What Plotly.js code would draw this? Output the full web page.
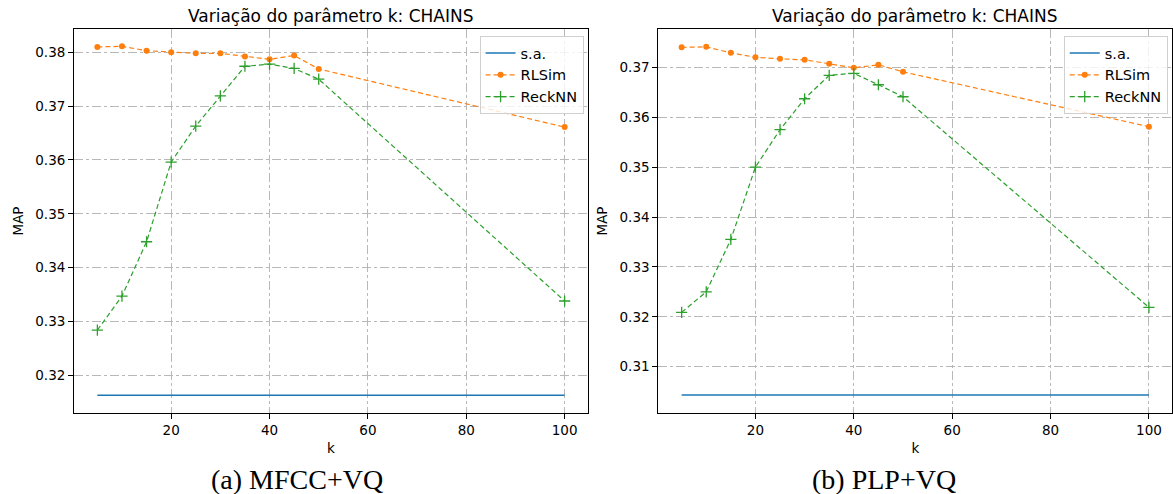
<!DOCTYPE html>
<html><head><meta charset="utf-8">
<script src="https://cdn.plot.ly/plotly-3.0.1.min.js"></script>
<style>html,body{margin:0;padding:0;background:#fff}#chart{width:1173px;height:494px}</style>
</head><body><div id="chart"></div>
<script>
const k = [5, 10, 15, 20, 25, 30, 35, 40, 45, 50, 100];
const mfccSA = 0.3163;
const mfccRLSim = [0.3810, 0.3811, 0.3803, 0.3800, 0.3798, 0.3798, 0.3792, 0.3787, 0.3794, 0.3769, 0.3661];
const mfccReckNN = [0.3284, 0.3347, 0.3448, 0.3596, 0.3663, 0.3719, 0.3774, 0.3778, 0.3770, 0.3750, 0.3338];
const plpSA = 0.3043;
const plpRLSim = [0.3740, 0.3741, 0.3729, 0.3720, 0.3717, 0.3715, 0.3707, 0.3699, 0.3705, 0.3691, 0.3581];
const plpReckNN = [0.3209, 0.3250, 0.3355, 0.3500, 0.3575, 0.3637, 0.3684, 0.3688, 0.3665, 0.3641, 0.3219];
const titleText = 'Variação do parâmetro k: CHAINS';
const captions = ['(a) MFCC+VQ', '(b) PLP+VQ'];

const blue = '#1f77b4', orange = '#ff7f0e', green = '#2ca02c';
function traces(sa, rl, rk, xa, ya, leg) {
  return [
    {x: k, y: k.map(() => sa), mode: 'lines', name: 's.a.', line: {color: blue, width: 1.5}, xaxis: xa, yaxis: ya, legend: leg},
    {x: k, y: rl, mode: 'lines+markers', name: 'RLSim', line: {color: orange, width: 1.2, dash: '5px,3px'},
     marker: {symbol: 'circle', size: 6, color: orange}, xaxis: xa, yaxis: ya, legend: leg},
    {x: k, y: rk, mode: 'lines+markers', name: 'ReckNN', line: {color: green, width: 1.2, dash: '5px,3px'},
     marker: {symbol: 'cross-thin-open', size: 8, line: {color: green, width: 1.3}}, xaxis: xa, yaxis: ya, legend: leg}
  ];
}
const data = [...traces(mfccSA, mfccRLSim, mfccReckNN, 'x', 'y', 'legend'),
              ...traces(plpSA, plpRLSim, plpReckNN, 'x2', 'y2', 'legend2')];

const tickFont = {family: 'DejaVu Sans', size: 13.5, color: '#000'};
const labFont = {family: 'DejaVu Sans', size: 13.5, color: '#000'};
function xax(dom, anchor) {
  return {domain: dom, anchor: anchor, range: [0.25, 104.75], tickvals: [20, 40, 60, 80, 100],
    showline: true, mirror: true, linecolor: '#000', linewidth: 1, ticks: 'outside', ticklen: 5, tickcolor: '#000',
    showgrid: true, gridcolor: '#b8b8b8', griddash: 'dashdot', gridwidth: 1, zeroline: false, tickfont: tickFont,
    title: {text: 'k', font: labFont, standoff: 6}};
}
function yax(anchor, range, tv) {
  return {domain: [0.1646, 0.9407], anchor: anchor, range: range, tickvals: tv, tickformat: '.2f',
    showline: true, mirror: true, linecolor: '#000', linewidth: 1, ticks: 'outside', ticklen: 5, tickcolor: '#000',
    showgrid: true, gridcolor: '#b8b8b8', griddash: 'dashdot', gridwidth: 1, zeroline: false, tickfont: tickFont,
    title: {text: 'MAP', font: labFont, standoff: 8}};
}
const legStyle = {bgcolor: 'rgba(255,255,255,0.8)', bordercolor: '#d0d0d0', borderwidth: 1,
  font: {family: 'DejaVu Sans', size: 14.5, color: '#000'}, xanchor: 'right', yanchor: 'top', tracegroupgap: 0, itemwidth: 30};
const layout = {
  width: 1173, height: 494, margin: {l: 0, r: 0, t: 0, b: 0}, paper_bgcolor: '#fff', plot_bgcolor: '#fff',
  showlegend: true,
  xaxis: xax([0.0631, 0.5013], 'y'),
  yaxis: yax('x', [0.31305, 0.38427], [0.32, 0.33, 0.34, 0.35, 0.36, 0.37, 0.38]),
  xaxis2: xax([0.5612, 0.9994], 'y2'),
  yaxis2: yax('x2', [0.30078, 0.37762], [0.31, 0.32, 0.33, 0.34, 0.35, 0.36, 0.37]),
  legend: Object.assign({x: 0.4975, y: 0.927}, legStyle),
  legend2: Object.assign({x: 0.9955, y: 0.927}, legStyle),
  annotations: [
    {text: titleText, xref: 'paper', yref: 'paper', x: 0.2822, y: 0.944, xanchor: 'center', yanchor: 'bottom', showarrow: false,
     font: {family: 'DejaVu Sans', size: 17, color: '#000'}},
    {text: titleText, xref: 'paper', yref: 'paper', x: 0.7803, y: 0.944, xanchor: 'center', yanchor: 'bottom', showarrow: false,
     font: {family: 'DejaVu Sans', size: 17, color: '#000'}},
    {text: captions[0], xref: 'paper', yref: 'paper', x: 0.2535, y: 0.03, xanchor: 'center', yanchor: 'middle', showarrow: false,
     font: {family: 'Liberation Serif', size: 28, color: '#000'}},
    {text: captions[1], xref: 'paper', yref: 'paper', x: 0.7535, y: 0.03, xanchor: 'center', yanchor: 'middle', showarrow: false,
     font: {family: 'Liberation Serif', size: 28, color: '#000'}}
  ]
};
Plotly.newPlot('chart', data, layout, {displayModeBar: false, staticPlot: true});
</script></body></html>
